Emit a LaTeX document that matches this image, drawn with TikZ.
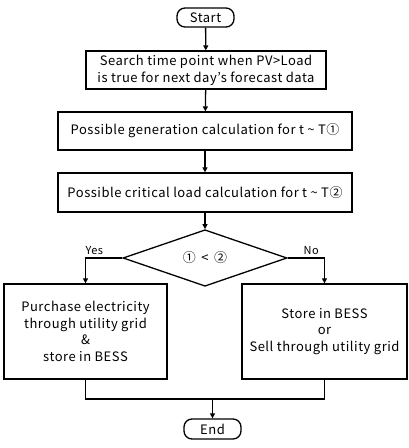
\documentclass[tikz,border=0pt]{standalone}
\usepackage{fontspec}
\setmainfont{Noto Sans CJK KR}[LetterSpace=4]
\usetikzlibrary{arrows.meta,shapes.geometric}

\tikzset{
  box/.style={draw=black, line width=1.3pt, align=center, inner sep=0pt,
    font=\fontsize{13}{16.8}\selectfont},
  term/.style={box, rounded corners=8pt, minimum width=57pt, minimum height=19pt},
  decide/.style={box, diamond, minimum width=164pt, minimum height=44pt},
  flow/.style={line width=1.3pt, -{Triangle[length=5pt,width=5pt]}},
  tag/.style={font=\fontsize{11}{12}\selectfont, inner sep=0pt}
}

\begin{document}
\begin{tikzpicture}[x=1pt,y=-1pt]
    \useasboundingbox (0,0) rectangle (408,448);
    \node[term] (start) at (205.5,17.5) {Start};
    \node[box, minimum width=240pt, minimum height=38pt] (search) at (206,70)
        {Search time point when PV>Load\\is true for next day's forecast data};
    \node[box, minimum width=294pt, minimum height=38pt] (gen) at (205,131)
        {Possible generation calculation for t \char`\~{} T①};
    \node[box, minimum width=294pt, minimum height=39pt] (crit) at (205,192.5)
        {Possible critical load calculation for t \char`\~{} T②};
    \node[decide] (cmp) at (205,258) {① \,<\, ②};
    \node[box, minimum width=163pt, minimum height=95pt] (buy) at (85.5,331.5)
        {Purchase electricity\\through utility grid\\\&\\store in BESS};
    \node[box, minimum width=165pt, minimum height=95pt] (store) at (324.5,331.5)
        {Store in BESS\\or\\Sell through utility grid};
    \node[term, minimum height=20pt] (end) at (212.5,429) {End};
    \coordinate (join) at (212.5,399);
    % main column
    \draw[flow] (start) -- (search);
    \draw[flow] (search) -- (gen);
    \draw[flow] (gen) -- (crit);
    \draw[flow] (crit) -- (cmp);
    % branches
    \draw[flow] (cmp.west) -| node[tag, pos=0.38, above=3pt] {Yes} (buy.north);
    \draw[flow] (cmp.east) -| node[tag, pos=0.32, above=3pt] {No} (store.north);
    \draw[line width=1.3pt] (buy.south) |- (join) -| (store.south);
    \draw[flow] (join) -- (end);
\end{tikzpicture}
\end{document}
